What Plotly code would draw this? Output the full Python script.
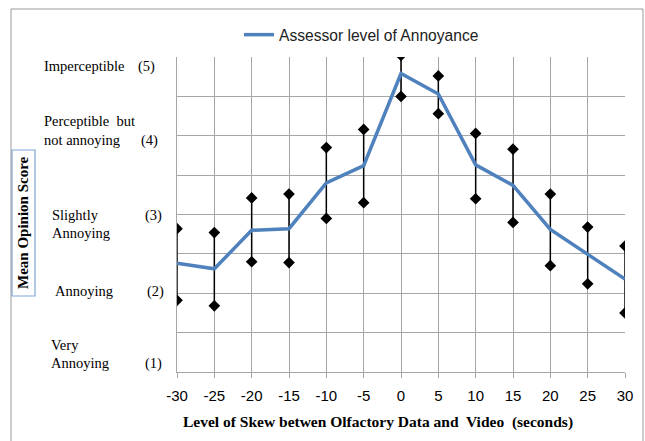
import numpy as np
import plotly.graph_objects as go

skew = [-30, -25, -20, -15, -10, -5, 0, 5, 10, 15, 20, 25, 30]
mos_mean = [2.38, 2.31, 2.80, 2.82, 3.40, 3.62, 4.79, 4.53, 3.63, 3.37, 2.81, 2.49, 2.18]
mos_upper = [2.82, 2.77, 3.21, 3.26, 3.85, 4.08, 5.02, 4.76, 4.03, 3.83, 3.26, 2.84, 2.60]
mos_lower = [1.91, 1.84, 2.40, 2.39, 2.95, 3.15, 4.50, 4.28, 3.20, 2.90, 2.35, 2.12, 1.75]
x_ticks = [-30, -25, -20, -15, -10, -5, 0, 5, 10, 15, 20, 25, 30]

W, H = 645, 441
L, R, T, B = 177, 625, 57, 372  # plot area in pixels


def px(xp):
    return (xp - L) / (R - L)


def py(yp):
    return (B - yp) / (B - T)


mean = np.array(mos_mean)
up = np.array(mos_upper) - mean
dn = mean - np.array(mos_lower)

fig = go.Figure()
fig.add_trace(go.Scatter(
    x=skew, y=mos_mean, mode="lines", name="Assessor level of Annoyance",
    line=dict(color="#4F81BD", width=3.5),
    error_y=dict(type="data", symmetric=False, array=up, arrayminus=dn,
                 color="black", thickness=1.5, width=0),
))
for vals in (mos_upper, mos_lower):
    fig.add_trace(go.Scatter(
        x=skew, y=vals, mode="markers", showlegend=False,
        marker=dict(symbol="diamond", size=9, color="black"),
    ))

serif = "Liberation Serif"
labels = [
    ("Imperceptible", 42, 66), ("(5)", 136, 66),
    ("Perceptible  but", 42, 121), ("not annoying", 42, 140), ("(4)", 139, 140),
    ("Slightly", 50, 215), ("Annoying", 50, 233), ("(3)", 143, 215),
    ("Annoying", 53, 291), ("(2)", 145, 291),
    ("Very", 49, 345), ("Annoying", 49, 363), ("(1)", 143, 363),
]
ann = []
for txt, xp, yp in labels:
    ann.append(dict(text=txt, xref="paper", yref="paper", x=px(xp), y=py(yp),
                    xanchor="left", yanchor="middle", showarrow=False,
                    font=dict(family=serif, size=14.5, color="black")))
ann.append(dict(text="<b>Level of Skew betwen Olfactory Data and  Video  (seconds)</b>",
                xref="paper", yref="paper", x=px(377.5), y=py(422),
                xanchor="center", yanchor="middle", showarrow=False,
                font=dict(family=serif, size=15.5, color="black")))
ann.append(dict(text="<b>Mean Opinion Score</b>", xref="paper", yref="paper",
                x=px(23), y=py(223), xanchor="center", yanchor="middle",
                textangle=-90, showarrow=False,
                font=dict(family=serif, size=15, color="black")))

shapes = [
    dict(type="rect", xref="paper", yref="paper", x0=px(12), x1=px(35),
         y0=py(296), y1=py(150), line=dict(color="#7EA6D6", width=1.2)),
    dict(type="rect", xref="paper", yref="paper", x0=px(11), x1=px(643),
         y0=py(460), y1=py(9), line=dict(color="#9a9a9a", width=1)),
]

fig.update_layout(
    width=W, height=H,
    margin=dict(l=L, r=W - R, t=T, b=H - B),
    paper_bgcolor="white", plot_bgcolor="white",
    showlegend=True,
    legend=dict(orientation="h", x=px(239), y=py(35), xanchor="left", yanchor="middle",
                font=dict(family="Liberation Sans", size=15.6, color="#222"),
                bgcolor="rgba(0,0,0,0)"),
    annotations=ann, shapes=shapes,
    xaxis=dict(range=[-30, 30], tickvals=x_ticks, ticktext=[str(v) for v in x_ticks],
               showgrid=True, gridcolor="#a6a6a6", gridwidth=1,
               showline=True, linecolor="#a6a6a6", linewidth=1,
               ticks="outside", ticklen=5, tickcolor="#a6a6a6",
               ticklabelstandoff=5,
               tickfont=dict(family="Liberation Sans", size=15, color="black"),
               zeroline=False, mirror=False),
    yaxis=dict(range=[1, 5], dtick=0.5, tick0=1, showticklabels=False,
               showgrid=True, gridcolor="#a6a6a6", gridwidth=1,
               showline=True, linecolor="#a6a6a6", linewidth=1,
               zeroline=False, ticks=""),
)

fig.write_html("out.html", config={"displayModeBar": False},
               post_script="document.body.style.margin='0';document.body.style.overflow='hidden';")
